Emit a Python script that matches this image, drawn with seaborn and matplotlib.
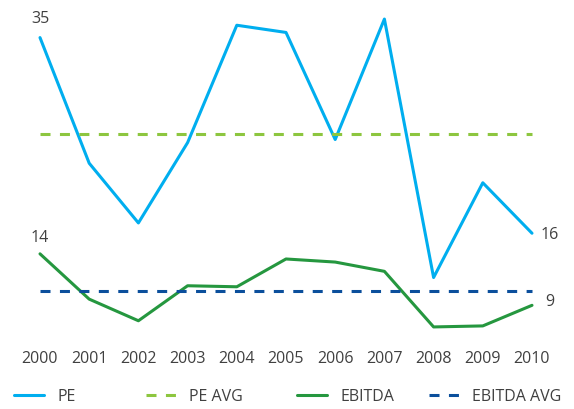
import numpy as np
import pandas as pd
import matplotlib
matplotlib.use('Agg')
import matplotlib.pyplot as plt
import seaborn as sns
from matplotlib.lines import Line2D

years = [2000, 2001, 2002, 2003, 2004, 2005, 2006, 2007, 2008, 2009, 2010]
pe = [35, 22.8, 17.0, 24.8, 36.2, 35.5, 25.1, 36.8, 11.7, 20.9, 16]
pe_avg = 25.6
ebitda = [14, 9.6, 7.5, 10.9, 10.8, 13.5, 13.2, 12.3, 6.9, 7.0, 9]
ebitda_avg = 10.4
labels = ['PE', 'PE AVG', 'EBITDA', 'EBITDA AVG']
colors = ['#00aeef', '#8dc63f', '#25973f', '#0b4f9c']

df = pd.DataFrame({'year': years, 'PE': pe, 'PE AVG': pe_avg,
                   'EBITDA': ebitda, 'EBITDA AVG': ebitda_avg})

sns.set_style('white')
plt.rcParams['font.family'] = ['Open Sans', 'DejaVu Sans']
plt.rcParams['lines.scale_dashes'] = True
text_col = '#404040'
fs = 11.5

W, H = 574, 409
fig = plt.figure(figsize=(W / 100, H / 100), dpi=100)
# axes: x 2000->40px, 2010->532px ; y 5 -> 346.5px, 37 -> 17px
ax = fig.add_axes([40 / W, 1 - 346.5 / H, 492 / W, (346.5 - 17) / H])
ax.set_xlim(2000, 2010)
ax.set_ylim(5, 37)

lw = 2.2
dash = (7.2, 6.8)  # in points (not scaled)
for name, col in zip(labels, colors):
    sns.lineplot(data=df, x='year', y=name, color=col, linewidth=lw, ax=ax,
                 clip_on=False)
    line = ax.get_lines()[-1]
    if 'AVG' in name:
        line.set_linestyle((0, (dash[0] / lw, dash[1] / lw)))

ax.set_xticks(years)
ax.set_xticklabels([str(y) for y in years], fontsize=fs, color=text_col)
ax.tick_params(axis='x', length=0, pad=3.5)
ax.set_yticks([])
ax.set_xlabel('')
ax.set_ylabel('')
sns.despine(ax=ax, left=True, bottom=True)

ax.annotate('35', (years[0], pe[0]), xytext=(0, 13.7), textcoords='offset points',
            ha='center', va='center', fontsize=fs, color=text_col)
ax.annotate('14', (years[0], ebitda[0]), xytext=(0, 11.5), textcoords='offset points',
            ha='center', va='center', fontsize=fs, color=text_col)
ax.annotate('16', (years[-1], pe[-1]), xytext=(6.5, -1.4), textcoords='offset points',
            ha='left', va='center', fontsize=fs, color=text_col)
ax.annotate('9', (years[-1], ebitda[-1]), xytext=(9.4, 2.2), textcoords='offset points',
            ha='left', va='center', fontsize=fs, color=text_col)

# legend entries placed individually
starts = [14, 146, 297, 429]
for name, col, x0 in zip(labels, colors, starts):
    h = Line2D([], [], color=col, linewidth=lw)
    if 'AVG' in name:
        h.set_linestyle((0, (dash[0] / lw, dash[1] / lw)))
    fig.legend([h], [name], loc='center left',
               bbox_to_anchor=(x0 / W, 1 - 397 / H), frameon=False,
               fontsize=fs, handlelength=1.9, handletextpad=0.8,
               borderaxespad=0, borderpad=0, labelcolor=text_col)

fig.savefig('out.png', dpi=100)
